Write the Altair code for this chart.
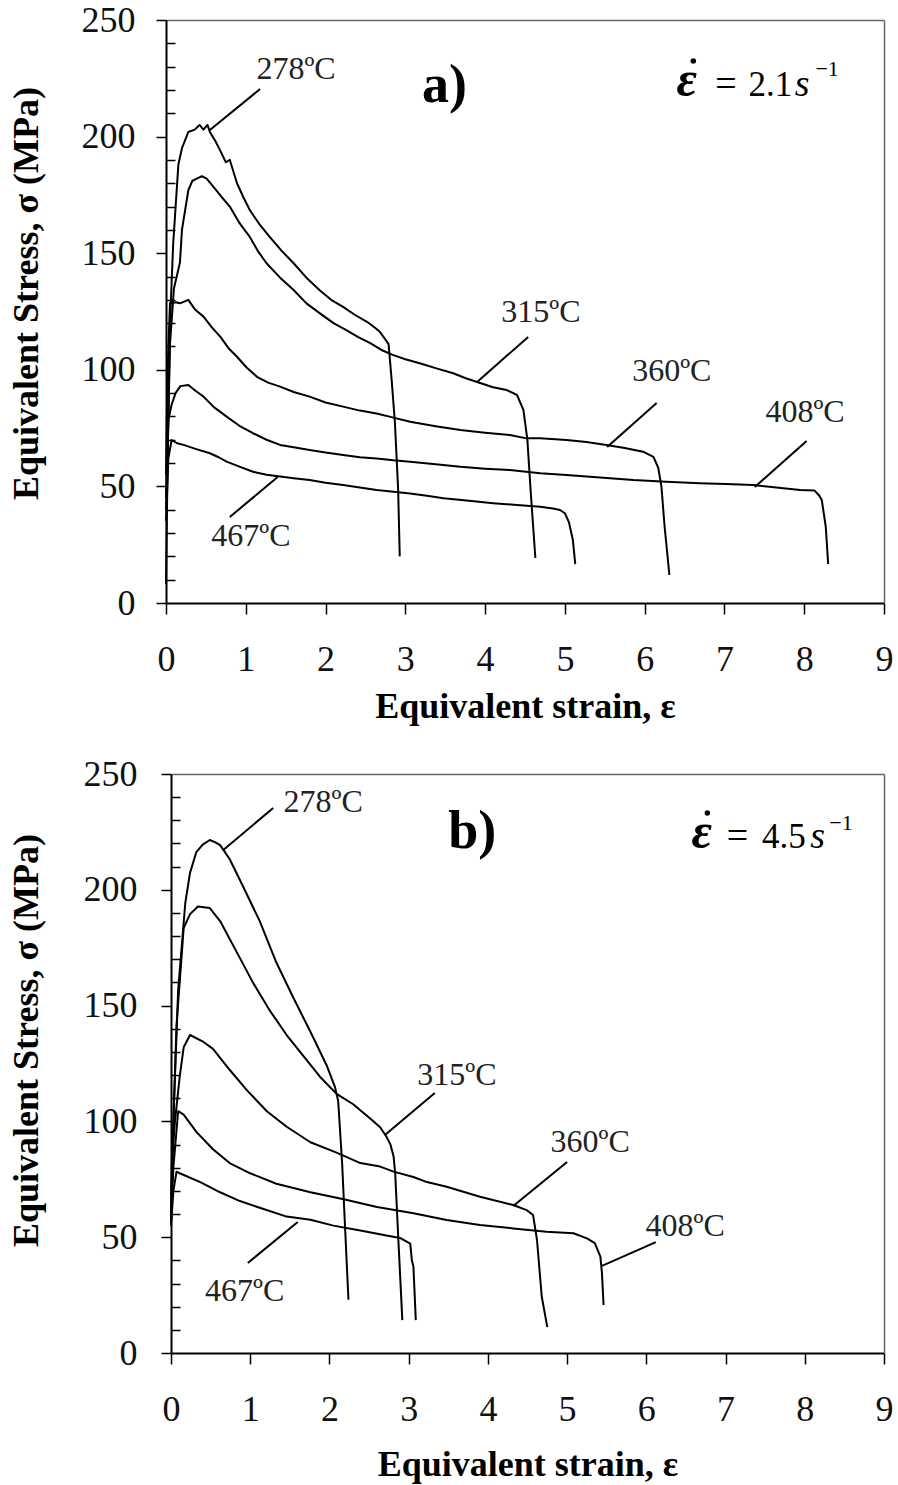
import altair as alt
import pandas as pd

FONT = "Liberation Serif"
TEMPS = ["278ºC", "315ºC", "360ºC", "408ºC", "467ºC"]

# ---------------- panel a) strain rate 2.1 s^-1 ----------------
A278_X = [0.0, 0.02, 0.05, 0.09, 0.155, 0.2, 0.28, 0.36, 0.42, 0.47, 0.52, 0.55, 0.62, 0.68, 0.75, 0.80, 0.89, 0.97,
          1.05, 1.18, 1.30, 1.45, 1.60, 1.76, 1.93, 2.07, 2.22, 2.37, 2.52, 2.62, 2.68, 2.74, 2.79, 2.83, 2.87, 2.91, 2.93]
A278_Y = [8, 60, 120, 154, 188, 195, 202, 203, 205, 203, 205, 202, 198, 194, 189, 190, 180, 174,
          168.5, 162, 157, 151, 145.7, 139.5, 134, 130, 127, 123.5, 120.6, 118, 116.3, 113.5, 111, 95, 77, 48.5, 20]

A315_X = [0.0, 0.03, 0.05, 0.1, 0.175, 0.2, 0.28, 0.33, 0.385, 0.45, 0.51, 0.61, 0.70, 0.80, 0.92, 1.05, 1.15, 1.26,
          1.43, 1.60, 1.76, 1.93, 2.10, 2.26, 2.41, 2.56, 2.70, 2.85, 3.0, 3.18, 3.40, 3.60, 3.75, 3.89, 4.10, 4.27,
          4.40, 4.48, 4.53, 4.57, 4.63]
A315_Y = [45, 80, 111, 135, 146, 160, 177, 181, 182, 183, 182, 177.8, 174, 170, 163, 157, 151, 145.7,
          139.5, 134.2, 128.5, 124.2, 120, 117, 114, 111.4, 108.5, 106.3, 104.5, 102.8, 100.5, 98.5, 96.5, 94.9, 92.5, 91.3,
          89.2, 82.8, 69.9, 48.5, 19.3]

A360_X = [0.0, 0.02, 0.05, 0.12, 0.175, 0.28, 0.36, 0.47, 0.58, 0.68, 0.79, 0.89, 1.01, 1.14, 1.28, 1.43, 1.60, 1.80,
          2.0, 2.22, 2.43, 2.64, 2.85, 3.06, 3.38, 3.69, 4.0, 4.31, 4.52, 4.69, 5.02, 5.27, 5.52, 5.75, 5.98, 6.11,
          6.17, 6.21, 6.25, 6.31]
A360_Y = [55, 100, 128.5, 129, 128.5, 130, 126, 122.8, 118, 114.2, 109, 105.6, 101, 97, 94.5, 92.8, 90.5, 88.5,
          86, 84.2, 82.5, 81.3, 79.5, 77.7, 75.8, 74.2, 73, 72, 70.6, 70.6, 69.9, 69, 67.8, 66.5, 64.9, 62.7,
          58, 50, 32.7, 12]

A408_X = [0.0, 0.03, 0.07, 0.12, 0.18, 0.28, 0.37, 0.47, 0.6, 0.76, 0.92, 1.09, 1.26, 1.43, 1.6, 1.80, 2.0, 2.22,
          2.43, 2.64, 2.85, 3.06, 3.38, 3.69, 4.0, 4.31, 4.69, 5.02, 5.44, 5.86, 6.27, 6.69, 7.02, 7.36, 7.65, 7.95,
          8.13, 8.19, 8.22, 8.27, 8.30]
A408_Y = [40, 78.5, 85, 90, 93, 93.5, 91, 88.5, 84, 79.9, 76, 72.8, 70, 67.8, 66.8, 65.6, 64.5, 63.5,
          62.5, 62, 61.2, 60.6, 59.5, 58.4, 57.6, 57, 55.6, 54.9, 53.8, 52.7, 52, 51.3, 51, 50.6, 49.5, 48.5,
          48.2, 46, 44.2, 32.7, 16.7]

A467_X = [0.0, 0.03, 0.07, 0.14, 0.22, 0.38, 0.55, 0.66, 0.76, 0.92, 1.09, 1.26, 1.43, 1.6, 1.80, 2.0, 2.22, 2.43,
          2.64, 2.85, 3.06, 3.27, 3.48, 3.8, 4.10, 4.4, 4.69, 4.85, 4.94, 5.0, 5.05, 5.10, 5.13]
A467_Y = [35, 62, 69.9, 68.5, 67.8, 66, 64.2, 62.5, 60.6, 58.5, 56.3, 55, 54.2, 53.5, 52.7, 51.6, 50.6, 49.5,
          48.5, 47.7, 47, 46, 44.9, 43.8, 42.8, 42, 41.3, 40.5, 39.9, 38.5, 34.7, 27, 16.7]

A_LABEL_X = [1.63, 4.70, 6.34, 8.01, 1.065]
A_LABEL_Y = [228.9, 124.8, 99.5, 81.9, 28.7]
A_LEAD_X1 = [1.18, 4.54, 6.15, 8.03, 0.80]
A_LEAD_Y1 = [220.4, 114.1, 85.8, 69.5, 36.9]
A_LEAD_X2 = [0.55, 3.90, 5.53, 7.38, 1.40]
A_LEAD_Y2 = [202.8, 94.8, 66.9, 49.7, 54.0]

# ---------------- panel b) strain rate 4.5 s^-1 ----------------
B278_X = [0.0, 0.04, 0.09, 0.18, 0.24, 0.32, 0.40, 0.49, 0.56, 0.62, 0.74, 0.91, 1.12, 1.33, 1.54, 1.76, 1.97,
          2.07, 2.11, 2.16, 2.20, 2.24]
B278_Y = [56.7, 110, 156.6, 194.2, 207.3, 216.3, 219.5, 221.5, 220.5, 219.3, 213.3, 201.4, 186.5, 168.6, 153.7,
          138.7, 123.8, 114.8, 108.9, 82, 52.2, 23]

B315_X = [0.0, 0.03, 0.07, 0.16, 0.24, 0.34, 0.49, 0.62, 0.83, 1.04, 1.25, 1.46, 1.67, 1.88, 2.09, 2.30, 2.51,
          2.64, 2.72, 2.77, 2.81, 2.83, 2.87, 2.92]
B315_Y = [60, 100, 141.7, 183.5, 189.5, 192.8, 192.1, 186.5, 173.1, 159.6, 147.7, 137.3, 128.3, 119.3, 111.9,
          107.4, 101.4, 97.5, 93.4, 90, 84.8, 77.6, 48.8, 14.2]

B360_X = [0.0, 0.01, 0.05, 0.11, 0.16, 0.24, 0.41, 0.53, 0.74, 0.96, 1.21, 1.46, 1.76, 2.09, 2.39, 2.64, 2.81,
          3.06, 3.23, 3.48, 3.90, 4.32, 4.49, 4.57, 4.62, 4.68, 4.75]
B360_Y = [60, 82, 100, 119.3, 132, 137.3, 134.3, 131.3, 122.3, 113.4, 104.4, 97.7, 91, 86.5, 82, 80.5, 78.3,
          76, 73.8, 71.8, 67.5, 63.9, 61.7, 59.6, 48.8, 24.3, 11.2]

B408_X = [0.0, 0.03, 0.09, 0.16, 0.32, 0.53, 0.74, 1.0, 1.33, 1.76, 2.18, 2.60, 3.06, 3.48, 3.90, 4.32, 4.74,
          5.08, 5.25, 5.35, 5.42, 5.44, 5.46]
B408_Y = [56, 80, 104.4, 102.9, 95.5, 88, 82, 77.6, 73.1, 69.4, 66.4, 63, 60.3, 57.4, 55.3, 53.8, 52.4,
          51.7, 49.5, 47.4, 41.6, 34.4, 20.7]

B467_X = [0.0, 0.03, 0.07, 0.11, 0.37, 0.62, 0.87, 1.12, 1.46, 1.76, 2.05, 2.39, 2.72, 2.89, 3.02, 3.04, 3.06, 3.09]
B467_Y = [55, 70, 78.3, 77.6, 73.8, 69.4, 65.6, 62.7, 58.9, 57.5, 55, 52.9, 50.7, 49.7, 47.2, 40.2, 37.3, 14.2]

B_LABEL_X = [1.92, 3.61, 5.29, 6.49, 0.93]
B_LABEL_Y = [237.9, 120.0, 91.1, 54.8, 26.8]
B_LEAD_X1 = [1.29, 3.33, 5.00, 6.12, 0.97]
B_LEAD_Y1 = [235.3, 112.3, 82.5, 47.9, 38.9]
B_LEAD_X2 = [0.66, 2.70, 4.32, 5.44, 1.60]
B_LEAD_Y2 = [217.2, 94.1, 63.5, 37.6, 56.6]

X_TICKS = [0, 1, 2, 3, 4, 5, 6, 7, 8, 9]
Y_MAJOR = [0, 50, 100, 150, 200, 250]
Y_MINOR = [10, 20, 30, 40, 60, 70, 80, 90, 110, 120, 130, 140, 160, 170, 180, 190, 210, 220, 230, 240]

# annotation anchors (data coordinates)
A_LETTER = {"x": 3.21, "y": 214.8, "t": "a)"}
B_LETTER = {"x": 3.50, "y": 218.0, "t": "b)"}
A_RATE = {"eps": (6.40, 217.2), "dot": (6.61, 232.4), "eq": (7.02, 217.2), "num": (7.30, 217.2, "2.1"),
          "s": (7.88, 217.2), "sup": (8.14, 226.0)}
B_RATE = {"eps": (6.57, 218.0), "dot": (6.77, 233.2), "eq": (7.15, 218.0), "num": (7.46, 218.0, "4.5"),
          "s": (8.07, 218.0), "sup": (8.31, 226.0)}


def curves_frame(series):
    rows = []
    for name, xs, ys in series:
        for i, (x, y) in enumerate(zip(xs, ys)):
            rows.append({"temp": name, "i": i, "strain": x, "stress": y})
    return pd.DataFrame(rows)


def build_panel(curves, lx, ly, x1, y1, x2, y2, letter, rate, width, height, inset,
                ylab_pad, ytitle_pad, title_y, xtitle_pad):
    xs = alt.Scale(domain=[0, 9], range=[inset, width], nice=False, zero=False)
    ys = alt.Scale(domain=[0, 250], nice=False, zero=False)
    xaxis = alt.Axis(values=X_TICKS, tickSize=11, labelPadding=28, titlePadding=xtitle_pad,
                     labelFlush=False, labelOverlap=False, grid=False, format="d",
                     title="Equivalent strain, ε")
    ymajor = alt.Axis(values=Y_MAJOR, tickSize=10, labelPadding=ylab_pad, titlePadding=ytitle_pad,
                      labelFlush=False, labelOverlap=False, grid=False, format="d", titleY=title_y,
                      offset=-inset, title="Equivalent Stress, σ (MPa)")
    yminor = alt.Axis(values=Y_MINOR, orient="left", offset=-(inset + 9), tickSize=9, labels=False,
                      domain=False, grid=False, title=None)
    xtop = alt.Axis(orient="top", ticks=False, labels=False, grid=False, title=None,
                    domainColor="#666", domainWidth=1.5)
    yright = alt.Axis(orient="right", ticks=False, labels=False, grid=False, title=None,
                      domainColor="#666", domainWidth=1.5)

    def X(f, axis=None):
        if axis is None:
            return alt.X(f, type="quantitative", scale=xs, axis=None)
        return alt.X(f, type="quantitative", scale=xs, axis=axis)

    def Y(f, axis=None):
        if axis is None:
            return alt.Y(f, type="quantitative", scale=ys, axis=None)
        return alt.Y(f, type="quantitative", scale=ys, axis=axis)

    frame = alt.Chart(pd.DataFrame({"fx": [0], "fy": [0]})).mark_point(opacity=0).encode(
        x=X("fx", xtop), y=Y("fy", yright))

    lines = alt.Chart(curves).mark_line(color="black", strokeWidth=2, strokeJoin="round").encode(
        x=X("strain", xaxis), y=Y("stress", ymajor), detail="temp:N", order="i:Q")

    minor = alt.Chart(pd.DataFrame({"v": Y_MINOR})).mark_point(opacity=0).encode(
        y=Y("v", yminor))

    lead_df = pd.DataFrame({"x": x1, "y": y1, "x2": x2, "y2": y2})
    leaders = alt.Chart(lead_df).mark_rule(color="black", strokeWidth=2).encode(
        x=X("x"), y=Y("y"), x2="x2:Q", y2="y2:Q")

    lab_df = pd.DataFrame({"x": lx, "y": ly, "t": TEMPS})
    labels = alt.Chart(lab_df).mark_text(font=FONT, fontSize=32, color="#222", align="center",
                                         baseline="middle").encode(x=X("x"), y=Y("y"), text="t:N")

    let_df = pd.DataFrame([letter])
    let_txt = alt.Chart(let_df).mark_text(font=FONT, fontSize=54, fontWeight="bold", color="black",
                                          align="left", baseline="alphabetic").encode(
        x=X("x"), y=Y("y"), text="t:N")

    def txt(x, y, t, **kw):
        d = pd.DataFrame({"x": [x], "y": [y], "t": [t]})
        return alt.Chart(d).mark_text(font=FONT, color="black", baseline="alphabetic", **kw).encode(
            x=X("x"), y=Y("y"), text="t:N")

    eps = txt(rate["eps"][0], rate["eps"][1], "ε", fontSize=50, fontStyle="italic", fontWeight="bold",
              align="left")
    dot = alt.Chart(pd.DataFrame({"x": [rate["dot"][0]], "y": [rate["dot"][1]]})).mark_circle(
        size=30, color="black", opacity=1).encode(x=X("x"), y=Y("y"))
    eq = txt(rate["eq"][0], rate["eq"][1], "=", fontSize=38, align="center")
    num = txt(rate["num"][0], rate["num"][1], rate["num"][2], fontSize=35, align="left")
    s = txt(rate["s"][0], rate["s"][1], "s", fontSize=38, fontStyle="italic", align="left")
    sup = txt(rate["sup"][0], rate["sup"][1], "−1", fontSize=22, align="left")

    return alt.layer(frame, lines, minor, leaders, labels, let_txt, eps, dot, eq, num, s, sup).resolve_axis(
        x="independent", y="independent").properties(width=width, height=height)


curves_a = curves_frame([
    (TEMPS[0], A278_X, A278_Y), (TEMPS[1], A315_X, A315_Y), (TEMPS[2], A360_X, A360_Y),
    (TEMPS[3], A408_X, A408_Y), (TEMPS[4], A467_X, A467_Y)])
curves_b = curves_frame([
    (TEMPS[0], B278_X, B278_Y), (TEMPS[1], B315_X, B315_Y), (TEMPS[2], B360_X, B360_Y),
    (TEMPS[3], B408_X, B408_Y), (TEMPS[4], B467_X, B467_Y)])

panel_a = build_panel(curves_a, A_LABEL_X, A_LABEL_Y, A_LEAD_X1, A_LEAD_Y1, A_LEAD_X2, A_LEAD_Y2,
                      A_LETTER, A_RATE, 718, 583, 0, 21, 36, 273, 12)
panel_b = build_panel(curves_b, B_LABEL_X, B_LABEL_Y, B_LEAD_X1, B_LEAD_Y1, B_LEAD_X2, B_LEAD_Y2,
                      B_LETTER, B_RATE, 718, 579, 5, 24, 38, 266, 20)

chart = alt.concat(panel_a, panel_b, columns=1, spacing=32).properties(
    padding={"left": 8, "top": 2, "right": 4, "bottom": 4},
    background="white",
).configure_view(
    strokeWidth=0
).configure_axis(
    domainColor="black", domainWidth=2, tickColor="black", tickWidth=1.5,
    labelFont=FONT, labelFontSize=36, labelColor="#111",
    titleFont=FONT, titleFontSize=36, titleFontWeight="bold", titleColor="black",
)

chart.save("out.html", embed_options={"renderer": "svg", "actions": False})
